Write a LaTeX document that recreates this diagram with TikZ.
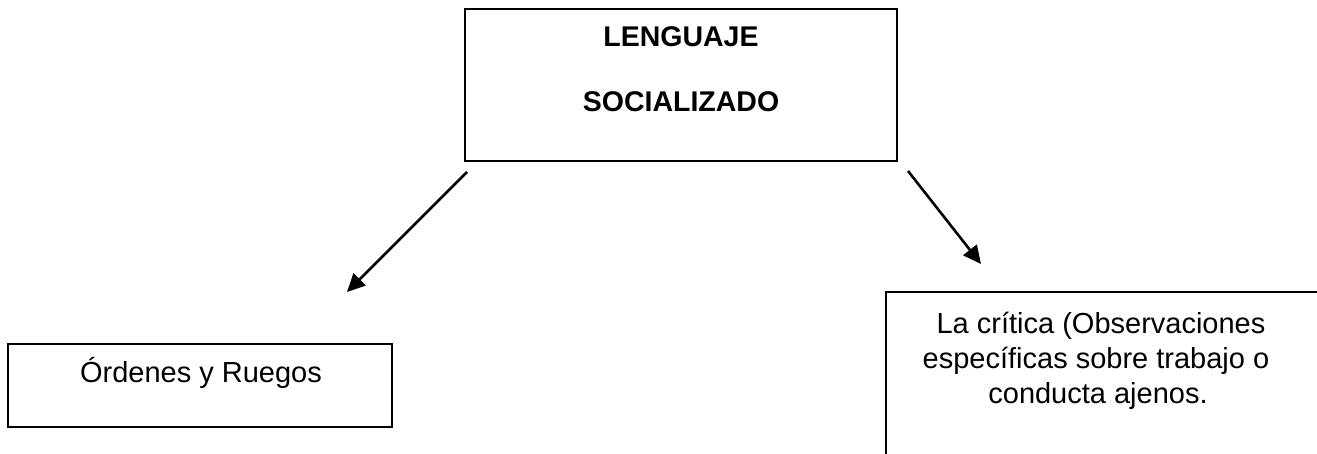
\documentclass[tikz,border=0pt]{standalone}
\usepackage{fontspec}
\setmainfont{Liberation Sans}
\usetikzlibrary{arrows.meta}
\begin{document}
\begin{tikzpicture}[x=1pt,y=-1pt,
  box/.style={draw=black,line width=2.2pt,inner sep=0pt},
  lbl/.style={anchor=base,inner sep=0pt,font=\fontsize{29}{35}\selectfont},
  blbl/.style={anchor=base,inner sep=0pt,font=\fontsize{28.5}{34}\selectfont\bfseries},
  conn/.style={line width=2.6pt,-{Triangle[length=18pt,width=17pt]}}]
\useasboundingbox (0,0) rectangle (1317,454);
\clip (0,0) rectangle (1317,454);
% top box
\node[box,minimum width=432pt,minimum height=152pt] (top) at (681,85) {};
\node[blbl] (t1) at (681,47) {LENGUAJE};
\node[blbl] (t2) at (681,112) {SOCIALIZADO};
% left box
\node[box,minimum width=384pt,minimum height=83pt] (left) at (200,385.5) {};
\node[lbl] (l1) at (201,382) {Órdenes y Ruegos};
% right box (runs off the page)
\node[box,minimum width=450pt,minimum height=190pt,anchor=north west] (right) at (885,291) {};
\node[lbl] (r1) at (1101,333) {La crítica (Observaciones};
\node[lbl] (r2) at (1096,368) {específicas sobre trabajo o};
\node[lbl] (r3) at (1098,403) {conducta ajenos.};
% arrows
\coordinate (a1s) at (467,172);
\coordinate (a1e) at (347,292);
\coordinate (a2s) at (908,171);
\coordinate (a2e) at (981,264);
\draw[conn] (a1s) -- (a1e);
\draw[conn] (a2s) -- (a2e);
\end{tikzpicture}
\end{document}
